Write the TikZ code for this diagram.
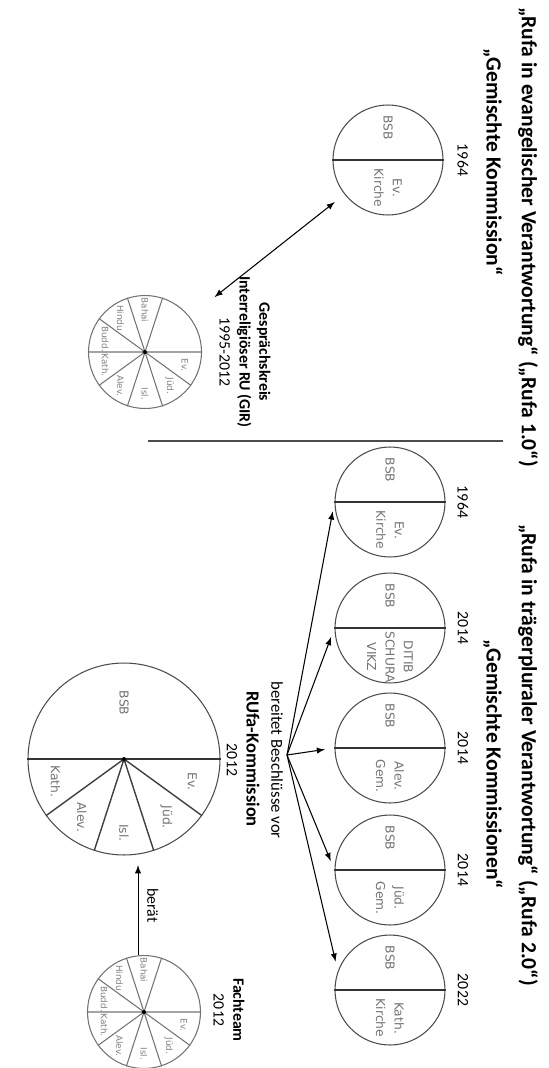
\documentclass[tikz,border=0pt]{standalone}
\usepackage{fontspec}
\setmainfont{Carlito}
\newfontfamily\labelfont{DejaVu Sans}
\usetikzlibrary{positioning}
\begin{document}
\begin{tikzpicture}[x=0.02cm, y=0.02cm, rotate=-90, transform shape, >=latex,
        titel/.style={font=\fontsize{12.3}{14}\selectfont\bfseries},
        info/.style={font=\fontsize{9}{11.3}\selectfont, align=center, inner sep=1pt},
        teil/.style={font=\labelfont\fontsize{7}{10.5}\selectfont, text=black!55, align=center, inner sep=0pt},
        mini/.style={font=\labelfont\fontsize{5}{6}\selectfont, text=black!50, inner sep=0pt},
        kreis/.style={circle, draw=black!70, line width=0.6pt, minimum size=2.2cm, inner sep=0pt},
        torte/.style={circle, draw=black!55, line width=0.6pt, minimum size=2.26cm, inner sep=0pt},
        trenner/.style={draw=black!80, line width=1pt},
        speiche/.style={draw=black!55, line width=0.6pt},
        pfeil/.style={->, line width=0.6pt, shorten >=5.5pt}]
        \useasboundingbox (0,0) rectangle (1068,548);

        % Ueberschriften
        \path (237,528) node[titel] (titel1) {„Rufa in evangelischer Verantwortung“ („Rufa 1.0“)};
        \path (162,493) node[titel] (sub1)   {„Gemischte Kommission“};
        \path (755,528) node[titel] (titel2) {„Rufa in trägerpluraler Verantwortung“ („Rufa 2.0“)};
        \path (764,493) node[titel] (sub2)   {„Gemischte Kommissionen“};

        \draw[black!70, line width=0.6pt] (441,148) -- (441,503);

        % Rufa 1.0
        \path (160,388) node[kreis] (ev1) {};
        \draw[trenner] (ev1.north) -- (ev1.south);
        \path (ev1) ++(-32,0) node[teil] (ev1a) {BSB};
        \path (ev1) ++(28,0)  node[teil] (ev1b) {Ev.\\Kirche};
        \path (160,463) node[info] (j1) {1964};

        \path (352,145) node[torte] (gir) {};
        \draw[speiche] (gir.center) -- (gir.90)  (gir.center) -- (gir.54)  (gir.center) -- (gir.18)
                       (gir.center) -- (gir.-18) (gir.center) -- (gir.-54) (gir.center) -- (gir.-90)
                       (gir.center) -- (gir.-126) (gir.center) -- (gir.-162) (gir.center) -- (gir.162);
        \fill (gir) circle (2);
        \path (gir) ++(180:42) node[mini] (gir1) {Bahai};
        \path (gir) ++(216:42) node[mini] (gir2) {Hindu};
        \path (gir) ++(252:42) node[mini] (gir3) {Budd.};
        \path (gir) ++(288:42) node[mini] (gir4) {Kath.};
        \path (gir) ++(324:42) node[mini] (gir5) {Alev.};
        \path (gir) ++(0:42)   node[mini] (gir6) {Isl.};
        \path (gir) ++(36:42)  node[mini] (gir7) {Jüd.};
        \path (gir) ++(72:42)  node[mini] (gir8) {Ev.};
        \path (352,245) node[info] (girtext) {\textbf{Gesprächskreis}\\\textbf{Interreligiöser RU (GIR)}\\1995-2012};

        \draw[<->, line width=0.6pt, shorten <=7pt, shorten >=18pt] (ev1) -- (gir);

        % Rufa 2.0
        \path (502,390) node[kreis] (ev2) {};
        \path (628,390) node[kreis] (isl) {};
        \path (748,390) node[kreis] (alev) {};
        \path (870,390) node[kreis] (jued) {};
        \path (990,390) node[kreis] (kath) {};
        \draw[trenner] (ev2.north) -- (ev2.south);
        \draw[trenner] (isl.north) -- (isl.south);
        \draw[trenner] (alev.north) -- (alev.south);
        \draw[trenner] (jued.north) -- (jued.south);
        \draw[trenner] (kath.north) -- (kath.south);

        \path (ev2)  ++(-32,0) node[teil] (ev2a)  {BSB};
        \path (ev2)  ++(28,0)  node[teil] (ev2b)  {Ev.\\Kirche};
        \path (isl)  ++(-32,0) node[teil] (isla)  {BSB};
        \path (isl)  ++(29,0)  node[teil] (islb)  {DITIB\\SCHURA\\VIKZ};
        \path (alev) ++(-32,0) node[teil] (aleva) {BSB};
        \path (alev) ++(28,0)  node[teil] (alevb) {Alev.\\Gem.};
        \path (jued) ++(-32,0) node[teil] (jueda) {BSB};
        \path (jued) ++(28,0)  node[teil] (juedb) {Jüd.\\Gem.};
        \path (kath) ++(-32,0) node[teil] (katha) {BSB};
        \path (kath) ++(28,0)  node[teil] (kathb) {Kath.\\Kirche};

        \path (502,463) node[info] (j2) {1964};
        \path (628,463) node[info] (j3) {2014};
        \path (748,463) node[info] (j4) {2014};
        \path (870,463) node[info] (j5) {2014};
        \path (990,463) node[info] (j6) {2022};

        % RUfa-Kommission
        \path (759,124) node[kreis, minimum size=3.84cm] (rufa) {};
        \draw[trenner] (rufa.north) -- (rufa.south);
        \draw[black!75, line width=0.8pt] (rufa.center) -- (rufa.54) (rufa.center) -- (rufa.18)
                                          (rufa.center) -- (rufa.-18) (rufa.center) -- (rufa.-54);
        \fill (rufa) circle (2);
        \path (rufa) ++(180:56) node[teil] (rufa0) {BSB};
        \path (rufa) ++(72:72)  node[teil] (rufa1) {Ev.};
        \path (rufa) ++(36:72)  node[teil] (rufa2) {Jüd.};
        \path (rufa) ++(0:74)   node[teil] (rufa3) {Isl.};
        \path (rufa) ++(-36:72) node[teil] (rufa4) {Alev.};
        \path (rufa) ++(-72:72) node[teil] (rufa5) {Kath.};
        \path (760,232) node[info]  (rjahr) {2012};
        \path (759,253) node[titel, font=\fontsize{10.5}{12.5}\selectfont\bfseries] (rname) {RUfa-Kommission};
        \path (760,277) node[info, font=\fontsize{9.5}{11.3}\selectfont] (rtext) {bereitet Beschlüsse vor};
        \coordinate (fan) at (755,287);

        \draw[pfeil] (fan) -- (ev2.south);
        \draw[pfeil] (fan) -- (isl.south);
        \draw[pfeil] (fan) -- (alev.south);
        \draw[pfeil] (fan) -- (jued.south);
        \draw[pfeil] (fan) -- (kath.250);

        % Fachteam
        \path (1012,144) node[torte] (fach) {};
        \draw[speiche] (fach.center) -- (fach.90)  (fach.center) -- (fach.54)  (fach.center) -- (fach.18)
                       (fach.center) -- (fach.-18) (fach.center) -- (fach.-54) (fach.center) -- (fach.-90)
                       (fach.center) -- (fach.-126) (fach.center) -- (fach.-162) (fach.center) -- (fach.162);
        \fill (fach) circle (2);
        \path (fach) ++(180:42) node[mini] (fach1) {Bahai};
        \path (fach) ++(216:42) node[mini] (fach2) {Hindu};
        \path (fach) ++(252:42) node[mini] (fach3) {Budd.};
        \path (fach) ++(288:42) node[mini] (fach4) {Kath.};
        \path (fach) ++(324:42) node[mini] (fach5) {Alev.};
        \path (fach) ++(0:42)   node[mini] (fach6) {Isl.};
        \path (fach) ++(36:42)  node[mini] (fach7) {Jüd.};
        \path (fach) ++(72:42)  node[mini] (fach8) {Ev.};
        \path (1010,229) node[info] (fachtext) {\textbf{Fachteam}\\2012};

        \draw[pfeil] ([yshift=-3.4pt]fach.west) -- ([yshift=-3.4pt]fach.west -| rufa.east)
            node[midway, above=4pt, info] (beraet) {berät};
\end{tikzpicture}
\end{document}
